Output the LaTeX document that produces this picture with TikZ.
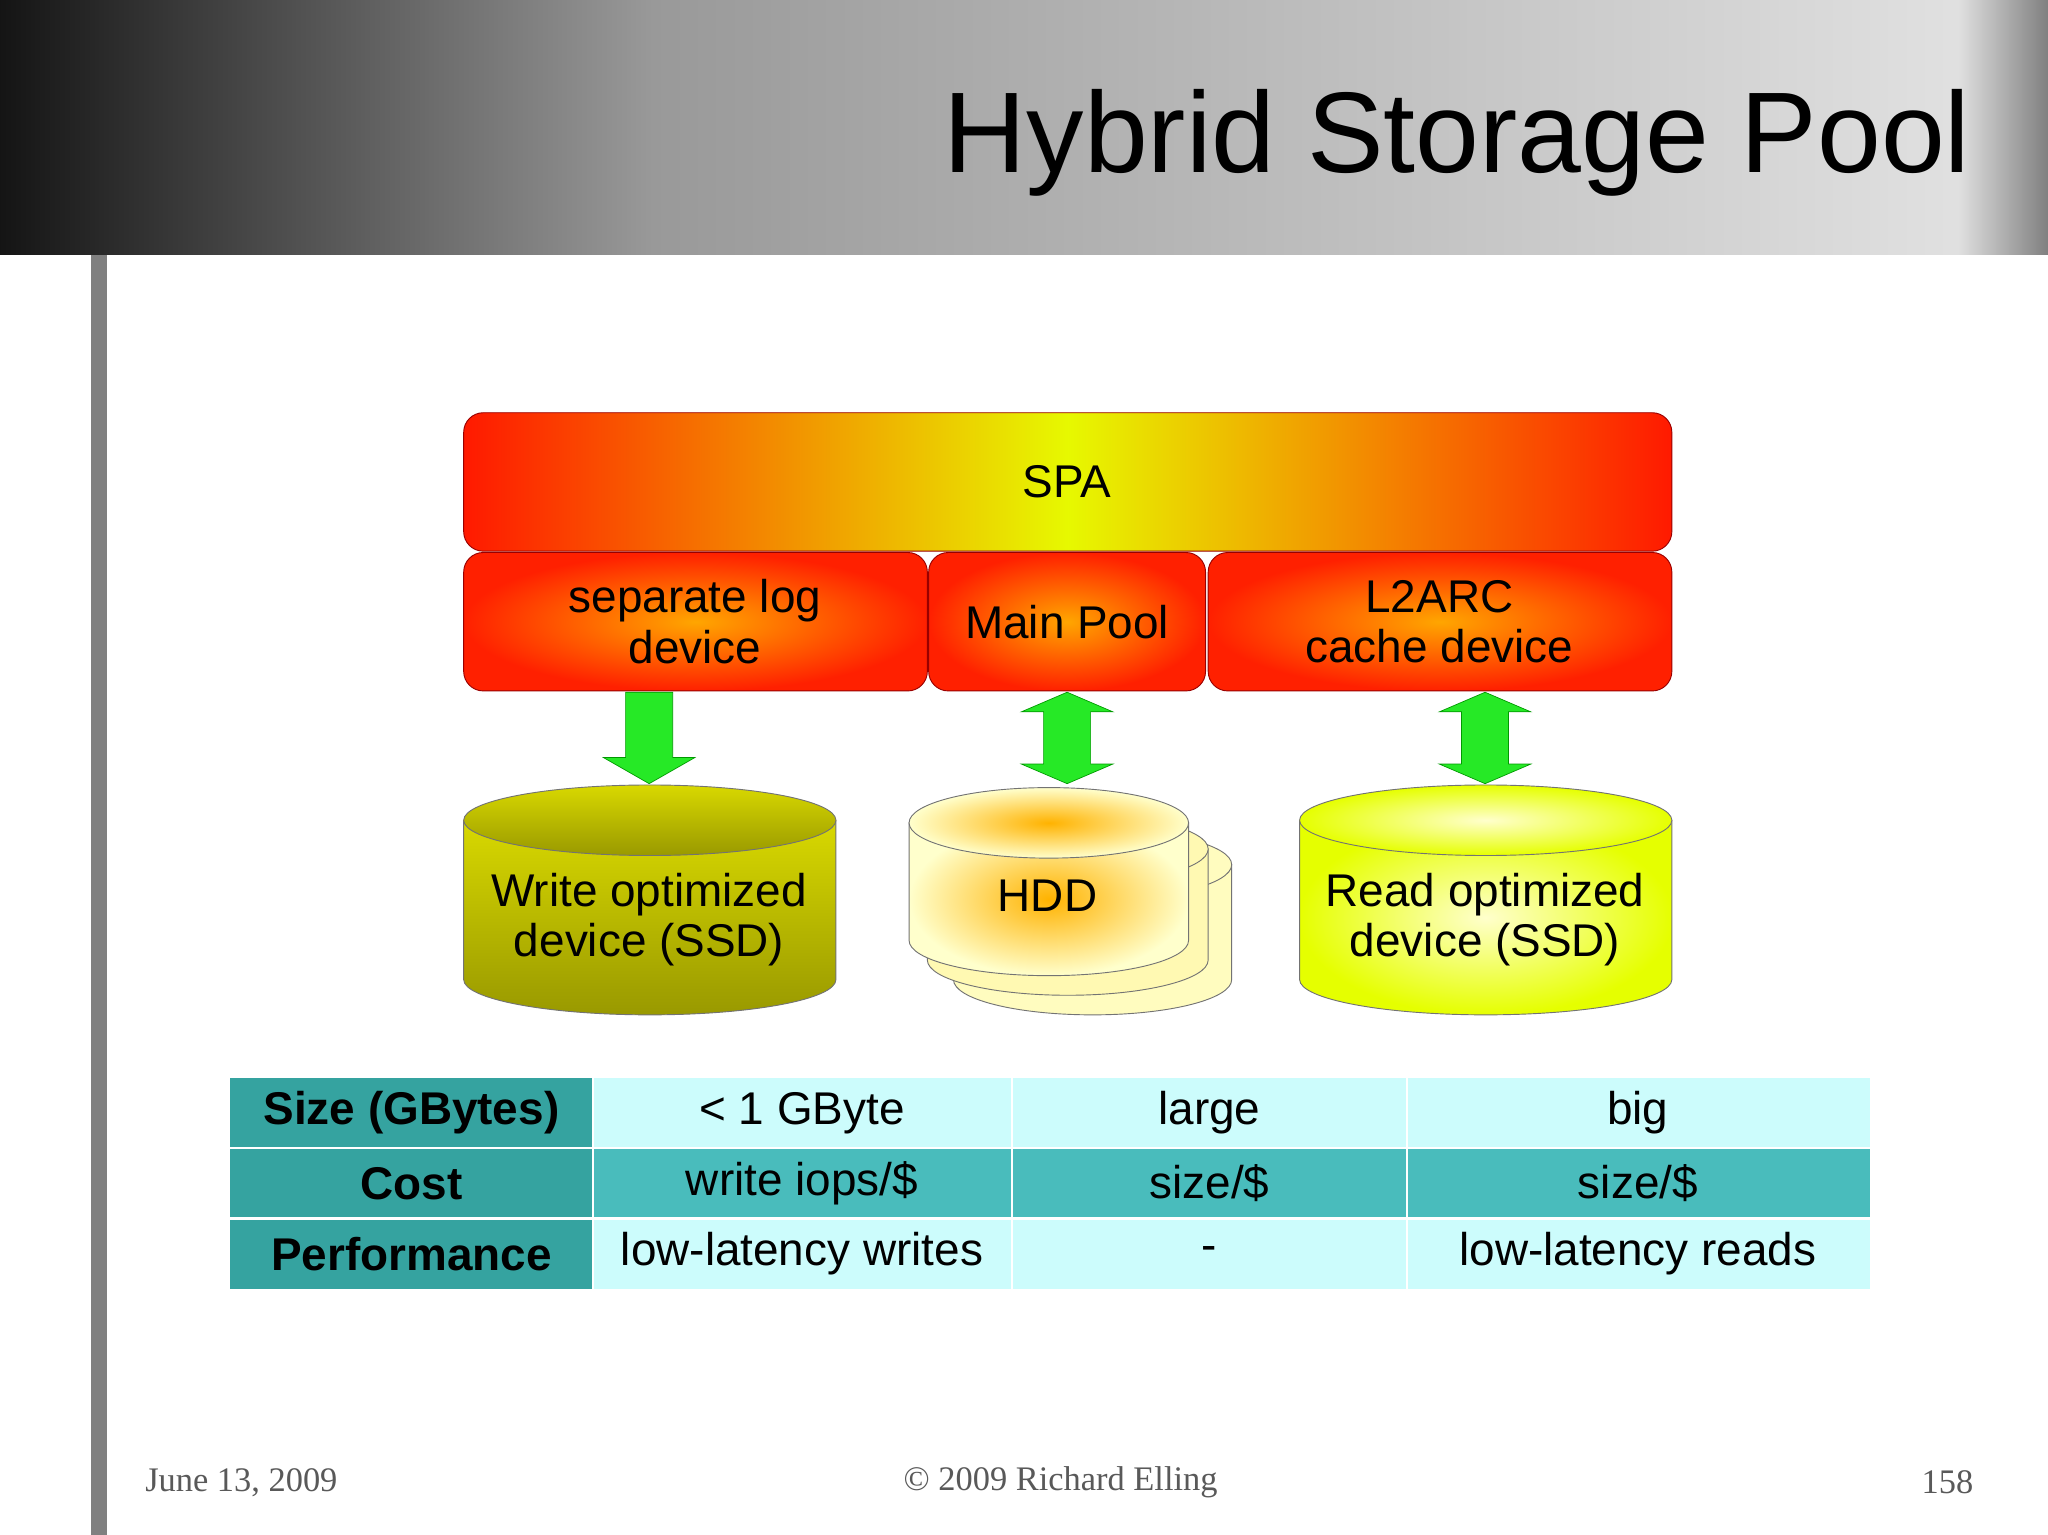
\documentclass[tikz,border=0pt]{standalone}
\usepackage{fontspec}
\setmainfont{Liberation Sans}
\newfontfamily\serifft{Liberation Serif}
\definecolor{lcyan}{HTML}{CCFCFC}
\definecolor{mteal}{HTML}{49BCBC}
\definecolor{dteal}{HTML}{35A3A0}
\begin{document}
\begin{tikzpicture}[x=0.02cm,y=-0.02cm,
  box/.style={draw=red!60!black,line width=0.4pt,rounded corners=0.3cm,inner color=orange!70!yellow,outer color=red!75!orange},
  lbl/.style={font=\fontsize{20}{22}\selectfont,align=center,text=black},
  arr/.style={fill=green!90!black!85,draw=green!60!black,line width=0.3pt},
  cell/.style={font=\fontsize{20}{22}\selectfont,text=black},
  foot/.style={font=\serifft\fontsize{15}{17}\selectfont,text=black!65}]
\useasboundingbox (0,0) rectangle (1568,1175);
\fill[white] (0,0) rectangle (1568,1175);
% header
\shade[left color=black!92,right color=black!40] (0,0) rectangle (500,195);
\shade[left color=black!40,right color=black!12] (499,0) rectangle (1500,195);
\shade[left color=black!12,right color=black!50] (1499,0) rectangle (1568,195);
\node[anchor=base east,font=\fontsize{50}{54}\selectfont] (title) at (1515,132) {Hybrid Storage Pool};
\fill[black!50] (70,195) rectangle (82,1175);
% SPA
\shade[rounded corners=0.3cm,left color=red!80!orange,right color=red!80!orange,middle color=yellow!90!green!95!orange] (355,316) rectangle (1280,422);
\draw[red!60!black,line width=0.4pt,rounded corners=0.3cm] (355,316) rectangle (1280,422);
\node[lbl] (spa) at (817,369) {SPA};
\path[box] (355,423) rectangle (710,529);
\node[lbl] (slog) at (532,476) {separate log\\device};
\path[box] (711,423) rectangle (923,529);
\node[lbl] (main) at (817,476) {Main Pool};
\path[box] (925,423) rectangle (1280,529);
\node[lbl] (l2) at (1102,476) {L2ARC\\cache device};
% arrows
\path[arr] (479,530) -- (515,530) -- (515,580) -- (532,580) -- (497,600) -- (462,580) -- (479,580) -- cycle;
\foreach \c in {817,1137}{
\path[arr] (\c,530) -- (\c+35,545) -- (\c+18,545) -- (\c+18,585) -- (\c+35,585) -- (\c,600) -- (\c-35,585) -- (\c-18,585) -- (\c-18,545) -- (\c-35,545) -- cycle;}
% cylinders
\newcommand\cylndr[6]{%
 \path[draw=black!55,line width=0.4pt,#6] (#1,#3) -- (#1,#4) arc[start angle=180,end angle=0,x radius=#5,y radius=27] -- (#2,#3) -- cycle;
 \path[draw=black!55,line width=0.4pt,#6] (#1+#5,#3) ellipse[x radius=#5,y radius=27];}
\cylndr{355}{640}{628}{750}{142.5}{top color=yellow!70!olive,bottom color=olive!80!yellow}
\cylndr{730}{943}{662}{750}{106.5}{fill=orange!10!yellow!25}
\cylndr{710}{925}{650}{735}{107.5}{fill=orange!15!yellow!30}
\cylndr{696}{910}{630}{720}{107}{inner color=orange!60!yellow,outer color=yellow!20}
\cylndr{995}{1280}{628}{750}{142.5}{inner color=yellow!20,outer color=yellow!90!green}
\node[lbl] (wo) at (497,704) {Write optimized\\device (SSD)};
\node[lbl] (hdd) at (802,686) {HDD};
\node[lbl] (ro) at (1137,704) {Read optimized\\device (SSD)};
% table
\fill[lcyan] (454,825) rectangle (1432,879);
\fill[mteal] (454,879) rectangle (1432,933);
\fill[lcyan] (454,933) rectangle (1432,987);
\fill[dteal] (176,825) rectangle (454,987);
\draw[white,line width=1pt] (176,879) -- (1432,879) (176,933) -- (1432,933) (454,825) -- (454,987) (775,825) -- (775,987) (1077,825) -- (1077,987);
\node[cell,font=\bfseries\fontsize{20}{22}\selectfont] (h1) at (315,852) {Size (GBytes)};
\node[cell,font=\bfseries\fontsize{20}{22}\selectfont] (h2) at (315,906) {Cost};
\node[cell,font=\bfseries\fontsize{20}{22}\selectfont] (h3) at (315,960) {Performance};
\node[cell] (a1) at (614,852) {< 1 GByte};
\node[cell] (b1) at (926,852) {large};
\node[cell] (c1) at (1254,852) {big};
\node[cell] (a2) at (614,906) {write iops/\$};
\node[cell] (b2) at (926,906) {size/\$};
\node[cell] (c2) at (1254,906) {size/\$};
\node[cell] (a3) at (614,960) {low-latency writes};
\node[cell] (b3) at (926,960) {-};
\node[cell] (c3) at (1254,960) {low-latency reads};
% footer
\node[foot,anchor=west] (d) at (105,1135) {June 13, 2009};
\node[foot] (cp) at (812,1135) {© 2009 Richard Elling};
\node[foot,anchor=east] (pg) at (1517,1135) {158};
\end{tikzpicture}
\end{document}
